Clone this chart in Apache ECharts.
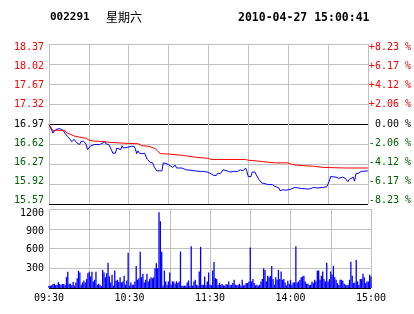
<!DOCTYPE html>
<html><head><meta charset="utf-8">
<script src="https://cdn.jsdelivr.net/npm/echarts@6/dist/echarts.min.js"></script>
<style>html,body{margin:0;padding:0;background:#fff}#c{width:414px;height:314px}</style>
</head><body><div id="c"></div>
<script>
const stockCode = '002291';
const weekday = '星期六';
const stamp = '2010-04-27 15:00:41';
const timeLabels = ['09:30', '10:30', '11:30', '14:00', '15:00'];
const priceTicks = ['18.37', '18.02', '17.67', '17.32', '16.97', '16.62', '16.27', '15.92', '15.57'];
const pctTicks = ['+8.23 %', '+6.17 %', '+4.12 %', '+2.06 %', ' 0.00 %', '-2.06 %', '-4.12 %', '-6.17 %', '-8.23 %'];
const volTicks = ['300', '600', '900', '1200'];
const prevClose = 16.97;
const priceLow = 15.57;
const priceHigh = 18.37;
const volMax = 1200;

// minute index (0 = 09:30, 120 = 11:30/13:00, 240 = 15:00) and price
const priceMinutes = [0,3,4,6,8,9,11,12,14,16,17,18,19,21,22,23,24,26,27,28,29,31,32,34,38,40,42,43,45,47,48,50,51,52,54,55,56,57,59,60,62,64,65,66,67,68,69,70,72,73,74,75,76,78,79,81,85,86,87,88,90,91,93,95,96,97,98,100,103,104,110,111,114,115,116,117,119,120,122,124,126,127,129,130,131,132,134,135,136,139,140,142,144,146,147,148,149,150,152,153,155,156,157,158,160,161,165,166,168,169,170,171,173,174,176,178,179,180,182,185,186,188,190,192,193,195,197,199,202,203,206,209,211,212,213,216,218,221,222,223,225,226,227,229,230,231,233,235,240];
const priceValues = [16.96,16.81,16.85,16.88,16.89,16.88,16.85,16.81,16.75,16.70,16.66,16.68,16.70,16.64,16.67,16.61,16.66,16.67,16.64,16.61,16.52,16.58,16.59,16.61,16.61,16.63,16.66,16.62,16.61,16.52,16.46,16.46,16.55,16.58,16.52,16.59,16.55,16.53,16.56,16.58,16.58,16.58,16.54,16.45,16.50,16.46,16.49,16.45,16.46,16.40,16.35,16.32,16.30,16.29,16.23,16.15,16.15,16.29,16.26,16.28,16.26,16.24,16.21,16.25,16.20,16.23,16.20,16.20,16.17,16.15,16.15,16.13,16.14,16.11,16.14,16.12,16.13,16.11,16.10,16.07,16.07,16.11,16.10,16.12,16.17,16.19,16.15,16.15,16.13,16.14,16.15,16.14,16.17,16.15,16.17,16.20,16.14,16.05,16.05,16.13,16.13,16.08,16.04,16.00,15.94,15.91,15.91,15.93,15.91,15.91,15.88,15.85,15.85,15.80,15.82,15.81,15.78,15.82,15.83,15.86,15.89,15.85,15.84,15.84,15.85,15.83,15.84,15.86,15.85,15.86,15.86,15.87,15.97,16.05,16.02,16.04,16.02,16.04,16.01,16.02,15.96,16.00,15.97,16.04,15.97,16.10,16.11,16.14,16.15];

const avgMinutes = [0,3,5,12,13,16,19,23,28,30,34,40,45,52,60,67,70,75,80,82,84,90,101,110,116,120,122,148,150,158,165,171,180,182,186,199,207,223,240];
const avgValues = [16.96,16.85,16.86,16.86,16.82,16.79,16.76,16.74,16.72,16.69,16.67,16.665,16.65,16.64,16.63,16.625,16.59,16.58,16.54,16.49,16.45,16.445,16.42,16.39,16.375,16.37,16.35,16.35,16.335,16.32,16.30,16.29,16.29,16.27,16.25,16.23,16.21,16.20,16.20];

// volume per minute, index = minute index
const volumes = [
35,35,40,60,65,40,50,90,60,40,
60,60,45,165,245,65,65,40,90,35,
85,150,260,235,50,85,115,85,135,225,
245,175,245,100,125,245,50,65,50,30,
275,235,165,225,385,175,85,200,35,265,
110,125,90,165,85,100,185,50,115,535,
35,85,50,50,100,335,125,150,550,165,
215,85,125,215,100,135,165,150,165,300,
375,300,1150,1015,550,35,265,100,50,100,
235,50,100,100,65,100,75,100,555,35,
35,35,35,85,115,35,635,35,100,125,
50,35,250,625,50,50,175,40,100,235,
50,
40,265,395,150,135,40,75,50,60,40,
35,60,50,100,40,50,75,125,50,40,
50,65,35,125,40,50,75,75,100,615,
100,135,75,40,50,35,50,100,135,300,
275,100,185,165,185,335,135,50,165,125,
275,135,250,125,135,85,40,110,65,125,
50,85,85,635,85,100,125,165,175,185,
100,65,65,40,50,100,75,125,100,265,
265,125,185,250,135,100,385,100,135,250,
200,335,165,125,75,50,125,125,110,65,
50,40,50,125,400,185,75,85,425,100,
50,135,135,215,165,75,100,100,200,175];

const MONO = 'DejaVu Sans Mono';
const GRAY = '#c0c0c0';
const RED = '#ff0000';
const GREEN = '#006000';

function sideColor(v) {
  if (Math.abs(v) < 1e-6) return '#000';
  return v > 0 ? RED : GREEN;
}
const stepVals = [-4, -3, -2, -1, 0, 1, 2, 3, 4];
const priceLineColors = stepVals.map(v => (v === 0 || v === -4) ? '#000' : GRAY);
const volLineColors = [0, 1, 2, 3, 4].map(i => i === 0 ? '#000' : GRAY);

const chart = echarts.init(document.getElementById('c'), null, {renderer: 'canvas'});
chart.setOption({
  animation: false,
  backgroundColor: '#fff',
  title: [
    {text: stockCode, left: 50, top: 12, padding: 0, textStyle: {fontFamily: MONO, fontWeight: 'bold', fontSize: 11, color: '#000'}},
    {text: weekday, left: 106, top: 11, padding: 0, textStyle: {fontFamily: 'Noto Sans CJK SC', fontWeight: 'normal', fontSize: 12, color: '#000'}},
    {text: stamp, left: 238, top: 12, padding: 0, textStyle: {fontFamily: MONO, fontWeight: 'bold', fontSize: 11.5, color: '#000'}}
  ],
  grid: [
    {left: 49, top: 44, width: 322, height: 160},
    {left: 49, top: 209, width: 322, height: 79}
  ],
  xAxis: [
    {gridIndex: 0, type: 'value', min: 0, max: 240, interval: 30,
     axisLine: {show: false}, axisTick: {show: false}, axisLabel: {show: false},
     splitLine: {show: true, lineStyle: {color: GRAY, width: 1}}},
    {gridIndex: 1, type: 'value', min: 0, max: 240, interval: 30,
     axisLine: {show: false}, axisTick: {show: false},
     axisLabel: {show: true, margin: 5, fontFamily: MONO, fontSize: 10, color: '#000',
       formatter: v => (v % 60 === 0 ? timeLabels[v / 60] : '')},
     splitLine: {show: true, lineStyle: {color: GRAY, width: 1}}}
  ],
  yAxis: [
    {gridIndex: 0, type: 'value', min: priceLow, max: priceHigh, show: false},
    {gridIndex: 0, type: 'value', min: -4, max: 4, interval: 1,
     axisLine: {show: false}, axisTick: {show: false}, axisLabel: {show: false},
     splitLine: {show: true, lineStyle: {color: priceLineColors, width: 1}}},
    {gridIndex: 0, type: 'value', position: 'left', min: -4.1667, max: 4.1667,
     axisLine: {show: false}, axisTick: {show: false}, splitLine: {show: false},
     axisLabel: {show: true, customValues: stepVals, margin: 5, fontFamily: MONO, fontSize: 10,
       formatter: v => priceTicks[Math.round(4 - v)], color: v => sideColor(v)}},
    {gridIndex: 0, type: 'value', position: 'right', min: -4.1667, max: 4.1667,
     axisLine: {show: false}, axisTick: {show: false}, splitLine: {show: false},
     axisLabel: {show: true, customValues: stepVals, margin: 1, fontFamily: MONO, fontSize: 10,
       formatter: v => pctTicks[Math.round(4 - v)], color: v => sideColor(v)}},
    {gridIndex: 1, type: 'value', min: 0, max: volMax, interval: 300,
     axisLine: {show: false}, axisTick: {show: false}, axisLabel: {show: false},
     splitLine: {show: true, lineStyle: {color: volLineColors, width: 1}}},
    {gridIndex: 1, type: 'value', position: 'left', min: -28, max: 1267,
     axisLine: {show: false}, axisTick: {show: false}, splitLine: {show: false},
     axisLabel: {show: true, customValues: [300, 600, 900, 1200], margin: 5, fontFamily: MONO, fontSize: 10, color: '#000',
       formatter: v => volTicks[Math.round(v / 300) - 1]}}
  ],
  series: [
    {type: 'line', xAxisIndex: 0, yAxisIndex: 0, showSymbol: false, symbol: 'none',
     data: priceMinutes.map((m, i) => [m, priceValues[i]]),
     lineStyle: {color: '#0000ff', width: 1}, z: 3},
    {type: 'line', xAxisIndex: 0, yAxisIndex: 0, showSymbol: false, symbol: 'none',
     data: avgMinutes.map((m, i) => [m, avgValues[i]]),
     lineStyle: {color: RED, width: 1}, z: 4},
    {type: 'bar', xAxisIndex: 1, yAxisIndex: 4, barWidth: 1.3,
     data: volumes.map((v, i) => [i, v]),
     itemStyle: {color: '#0000ff'}}
  ]
});
</script></body></html>
